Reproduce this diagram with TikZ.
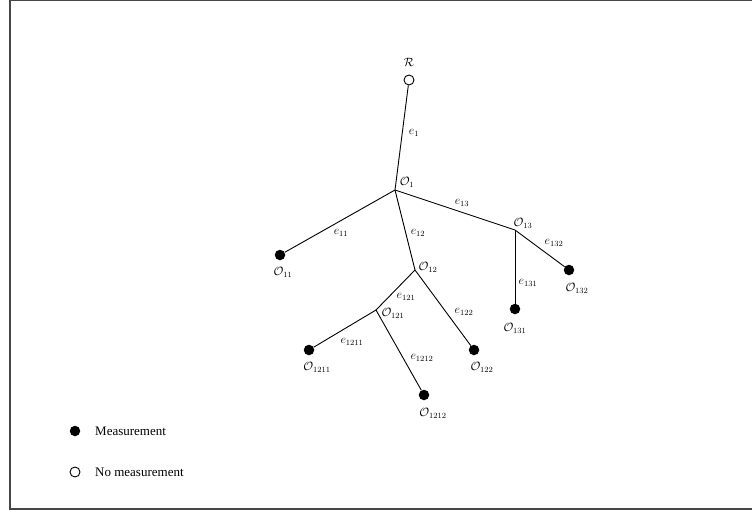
\documentclass[tikz,border=0pt]{standalone}
\usepackage{fontspec}
\newfontfamily\legendfont{Liberation Serif}
\definecolor{framegray}{RGB}{70, 70, 70}
\usepackage{amsmath}
\usepackage{tikz}
\usepackage{xcolor}

\begin{document}
\begin{tikzpicture}[x=1pt, y=-1pt,
    meas/.style={circle, fill=black, inner sep=0pt, minimum size=10.5pt},
    nomeas/.style={circle, draw=black, line width=0.9pt, fill=white, inner sep=0pt, minimum size=10pt},
    edge/.style={line width=0.9pt},
    lbl/.style={font=\fontsize{12}{14}\selectfont, inner sep=1pt},
    legtext/.style={font=\legendfont\fontsize{13}{15}\selectfont, anchor=west, inner sep=0pt}]
    \useasboundingbox (0,0) rectangle (752,514);
    \draw[framegray, line width=1.3pt] (752,0.6) -- (10,0.6) -- (10,509) -- (752,509);

    % vertices
    \node[nomeas] (R) at (409,80) {};
    \coordinate (O1) at (395,190);
    \coordinate (O12) at (415,270);
    \coordinate (O13) at (515,230);
    \coordinate (O121) at (376,310);
    \node[meas] (O11) at (280,255) {};
    \node[meas] (O131) at (515,309) {};
    \node[meas] (O132) at (569,270) {};
    \node[meas] (O122) at (474,350) {};
    \node[meas] (O1211) at (309,350) {};
    \node[meas] (O1212) at (424,395) {};

    % edges
    \draw[edge] (R) -- (O1);
    \draw[edge] (O1) -- (O11);
    \draw[edge] (O1) -- (O12);
    \draw[edge] (O1) -- (O13);
    \draw[edge] (O13) -- (O131);
    \draw[edge] (O13) -- (O132);
    \draw[edge] (O12) -- (O121);
    \draw[edge] (O12) -- (O122);
    \draw[edge] (O121) -- (O1211);
    \draw[edge] (O121) -- (O1212);

    % vertex labels
    \node[lbl] (lR) at (409,62) {$\mathcal{R}$};
    \node[lbl] (lO1) at (407,182) {$\mathcal{O}_1$};
    \node[lbl] (lO11) at (283,272) {$\mathcal{O}_{11}$};
    \node[lbl] (lO12) at (428,267) {$\mathcal{O}_{12}$};
    \node[lbl] (lO13) at (523,223) {$\mathcal{O}_{13}$};
    \node[lbl] (lO121) at (393,313) {$\mathcal{O}_{121}$};
    \node[lbl] (lO122) at (482,367) {$\mathcal{O}_{122}$};
    \node[lbl] (lO131) at (515,328) {$\mathcal{O}_{131}$};
    \node[lbl] (lO132) at (577,288) {$\mathcal{O}_{132}$};
    \node[lbl] (lO1211) at (317,367) {$\mathcal{O}_{1211}$};
    \node[lbl] (lO1212) at (433,413) {$\mathcal{O}_{1212}$};

    % edge labels
    \node[lbl] (le1) at (414,133) {$e_1$};
    \node[lbl] (le11) at (341,233) {$e_{11}$};
    \node[lbl] (le12) at (418,233) {$e_{12}$};
    \node[lbl] (le13) at (462,203) {$e_{13}$};
    \node[lbl] (le121) at (406,297) {$e_{121}$};
    \node[lbl] (le122) at (464,312) {$e_{122}$};
    \node[lbl] (le131) at (528,283) {$e_{131}$};
    \node[lbl] (le132) at (554,243) {$e_{132}$};
    \node[lbl] (le1211) at (352,342) {$e_{1211}$};
    \node[lbl] (le1212) at (422,358) {$e_{1212}$};

    % legend
    \node[meas] (keymeas) at (75,431) {};
    \node[legtext] (keymeastext) at (95,431) {Measurement};
    \node[nomeas] (keynomeas) at (75,472) {};
    \node[legtext] (keynomeastext) at (95,472) {No measurement};
\end{tikzpicture}
\end{document}
